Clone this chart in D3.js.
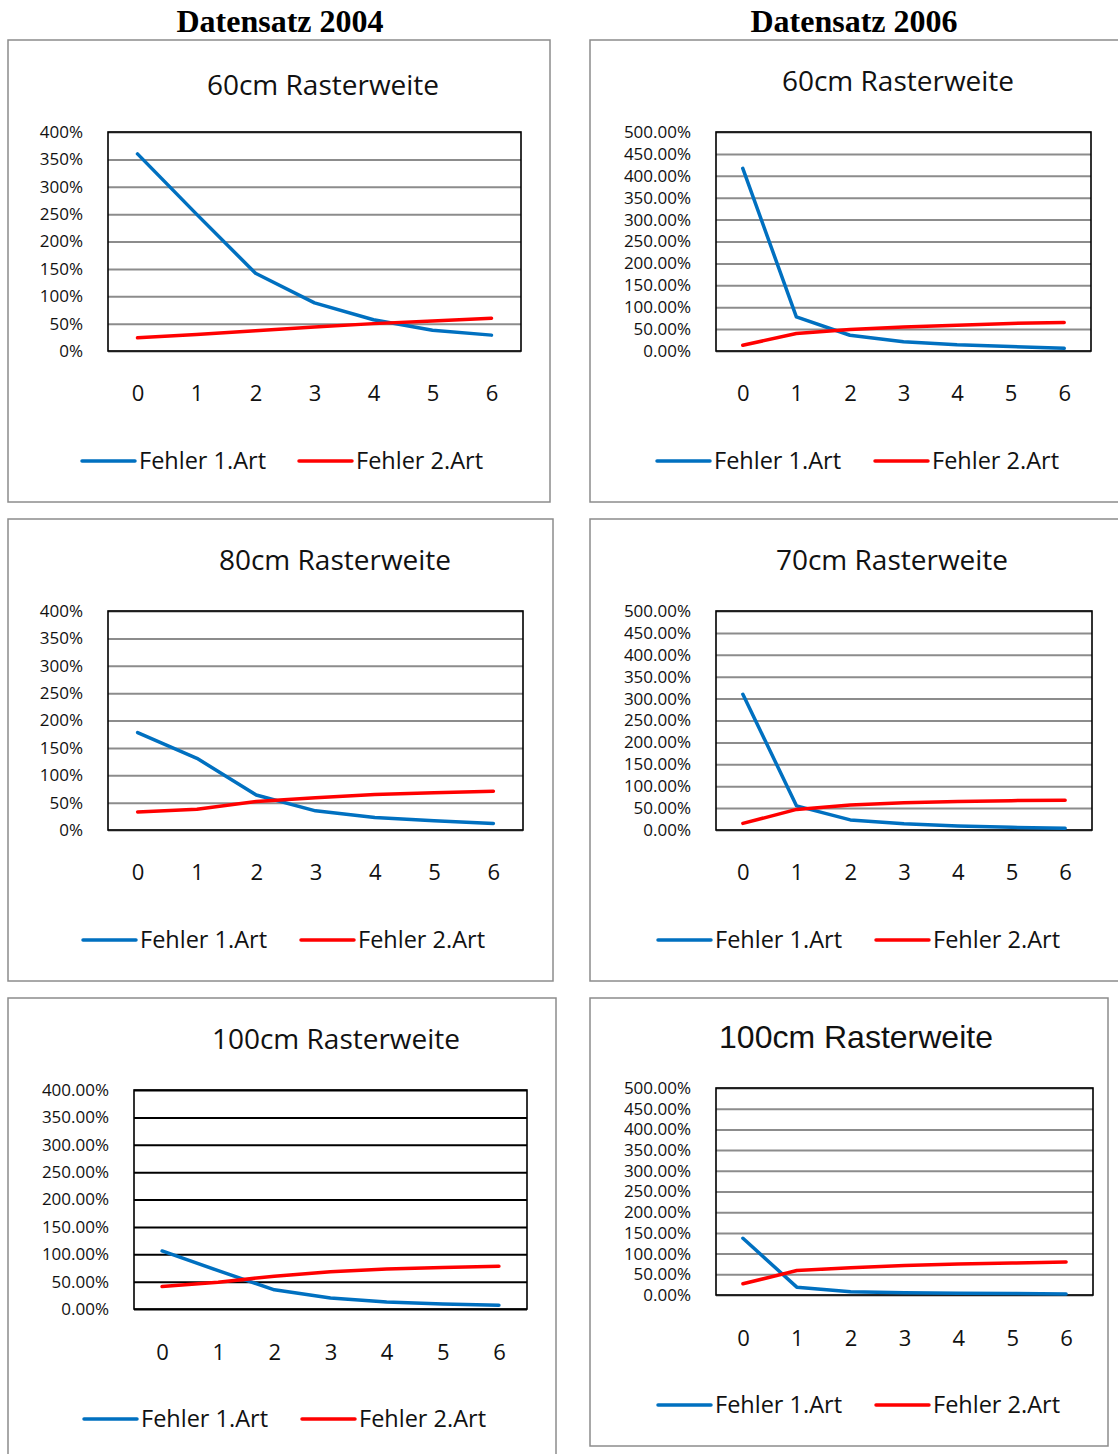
<!DOCTYPE html>
<html>
<head>
<meta charset="utf-8">
<script src="https://cdn.jsdelivr.net/npm/d3@7"></script>
<style>
  body { margin: 0; background: #fff; }
  svg { display: block; }
</style>
</head>
<body>
<svg id="drawing_region"></svg>
<script>
// x categories (Stufe)
const categories = [0, 1, 2, 3, 4, 5, 6];
const seriesNames = ["Fehler 1.Art", "Fehler 2.Art"];
const yearTitles = ["Datensatz 2004", "Datensatz 2006"];

// values in percent
const f1_2004_60  = [360, 250, 142, 88, 57, 38, 29];
const f2_2004_60  = [24, 30, 37, 44, 50, 55, 60];
const f1_2006_60  = [417, 78, 36, 21, 14, 10, 6];
const f2_2006_60  = [13, 40, 49, 55, 59, 63, 65];
const f1_2004_80  = [178, 131, 64, 35, 23, 17, 12];
const f2_2004_80  = [33, 38, 52, 59, 65, 68, 71];
const f1_2006_70  = [310, 55, 23, 14, 9, 6, 4];
const f2_2006_70  = [15, 47, 57, 62, 65, 67, 68];
const f1_2004_100 = [106, 70, 35, 20, 13, 9, 7];
const f2_2004_100 = [41, 49, 60, 68, 73, 76, 78];
const f1_2006_100 = [137, 19, 8, 5.5, 4, 3.5, 2.5];
const f2_2006_100 = [27, 59, 66, 71, 75, 77, 80];

const colors = ["#0070C0", "#FF0000"];

const svg = d3.select("#drawing_region")
    .attr("width", 1118)
    .attr("height", 1454);

svg.selectAll("text.year")
    .data(yearTitles)
    .enter()
    .append("text")
    .attr("class", "year")
    .attr("x", (d, i) => i == 0 ? 280 : 854)
    .attr("y", 32)
    .attr("text-anchor", "middle")
    .attr("font-family", "Liberation Serif")
    .attr("font-weight", "bold")
    .attr("font-size", "32px")
    .text(d => d);

const panels = [
    { title: "60cm Rasterweite", f1: f1_2004_60, f2: f2_2004_60, ymax: 400, fmt: ".0f",
      frame: [8, 40, 550, 502], plot: [108, 132, 521, 351], titleX: 323, titleY: 95,
      xlabY: 397, legY: 461, leg: [82, 299], grid: "#8c8c8c", font: "Open Sans", tsize: 28 },
    { title: "60cm Rasterweite", f1: f1_2006_60, f2: f2_2006_60, ymax: 500, fmt: ".2f",
      frame: [590, 40, 1125, 502], plot: [716, 132, 1091, 351], titleX: 898, titleY: 91,
      xlabY: 397, legY: 461, leg: [657, 875], grid: "#8c8c8c", font: "Open Sans", tsize: 28 },
    { title: "80cm Rasterweite", f1: f1_2004_80, f2: f2_2004_80, ymax: 400, fmt: ".0f",
      frame: [8, 519, 553, 981], plot: [108, 611, 523, 830], titleX: 335, titleY: 570,
      xlabY: 876, legY: 940, leg: [83, 301], grid: "#8c8c8c", font: "Open Sans", tsize: 28 },
    { title: "70cm Rasterweite", f1: f1_2006_70, f2: f2_2006_70, ymax: 500, fmt: ".2f",
      frame: [590, 519, 1125, 981], plot: [716, 611, 1092, 830], titleX: 892, titleY: 570,
      xlabY: 876, legY: 940, leg: [658, 876], grid: "#8c8c8c", font: "Open Sans", tsize: 28 },
    { title: "100cm Rasterweite", f1: f1_2004_100, f2: f2_2004_100, ymax: 400, fmt: ".2f",
      frame: [8, 998, 556, 1460], plot: [134, 1090, 527, 1309], titleX: 336, titleY: 1049,
      xlabY: 1356, legY: 1419, leg: [84, 302], grid: "#000", font: "Open Sans", tsize: 28 },
    { title: "100cm Rasterweite", f1: f1_2006_100, f2: f2_2006_100, ymax: 500, fmt: ".2f",
      frame: [590, 998, 1108, 1446], plot: [716, 1088, 1093, 1295], titleX: 856, titleY: 1048,
      xlabY: 1342, legY: 1405, leg: [658, 876], grid: "#8c8c8c", font: "Liberation Sans", tsize: 32 }
];

panels.forEach(p => drawPanel(p));

function drawPanel(p) {
    const [fx0, fy0, fx1, fy1] = p.frame;
    const [px0, py0, px1, py1] = p.plot;
    const g = svg.append("g");

    g.append("rect")
        .attr("x", fx0).attr("y", fy0)
        .attr("width", fx1 - fx0).attr("height", fy1 - fy0)
        .attr("fill", "#fff")
        .attr("stroke", "#8c8c8c")
        .attr("stroke-width", 1.5);

    g.append("text")
        .attr("x", p.titleX).attr("y", p.titleY)
        .attr("text-anchor", "middle")
        .attr("font-family", p.font)
        .attr("font-size", p.tsize + "px")
        .attr("fill", "#111")
        .text(p.title);

    const xscale = d3.scalePoint()
        .domain(categories)
        .range([px0, px1])
        .padding(0.5);

    const yscale = d3.scaleLinear()
        .domain([0, p.ymax])
        .range([py1, py0]);

    const yticks = d3.range(0, p.ymax + 1, 50);
    const fmt = d3.format(p.fmt);

    // gridlines
    g.append("g")
        .attr("transform", `translate(${px0},0)`)
        .call(d3.axisLeft(yscale).tickValues(yticks).tickSize(-(px1 - px0)).tickFormat(""))
        .call(a => a.select(".domain").remove())
        .call(a => a.selectAll("line").attr("stroke", p.grid).attr("stroke-width", 2));

    // y labels
    g.append("g")
        .attr("transform", `translate(${px0 - 22},0)`)
        .call(d3.axisLeft(yscale).tickValues(yticks).tickSize(0).tickFormat(d => fmt(d) + "%"))
        .call(a => a.select(".domain").remove())
        .call(a => a.selectAll("text")
            .attr("font-family", "Open Sans")
            .attr("font-size", "17px")
            .attr("fill", "#111")
            .attr("dx", 0));

    // x labels
    g.append("g")
        .attr("transform", `translate(0,${p.xlabY - 15})`)
        .call(d3.axisBottom(xscale).tickSize(0))
        .call(a => a.select(".domain").remove())
        .call(a => a.selectAll("text")
            .attr("font-family", "Open Sans")
            .attr("font-size", "22px")
            .attr("fill", "#111"));

    // plot border
    g.append("rect")
        .attr("x", px0).attr("y", py0)
        .attr("width", px1 - px0).attr("height", py1 - py0)
        .attr("fill", "none")
        .attr("stroke", "#000")
        .attr("stroke-width", 1.6);

    const line = d3.line()
        .x((d, i) => xscale(categories[i]))
        .y(d => yscale(d));

    [p.f1, p.f2].forEach((s, k) => {
        g.append("path")
            .datum(s)
            .attr("d", line)
            .attr("fill", "none")
            .attr("stroke", colors[k])
            .attr("stroke-width", 3.5)
            .attr("stroke-linecap", "round")
            .attr("stroke-linejoin", "round");
    });

    // legend
    seriesNames.forEach((name, k) => {
        const lx = p.leg[k];
        g.append("line")
            .attr("x1", lx).attr("x2", lx + 53)
            .attr("y1", p.legY).attr("y2", p.legY)
            .attr("stroke", colors[k])
            .attr("stroke-width", 3.5)
            .attr("stroke-linecap", "round");
        g.append("text")
            .attr("x", lx + 57).attr("y", p.legY + 8)
            .attr("font-family", "Open Sans")
            .attr("font-size", "23.5px")
            .attr("fill", "#111")
            .text(name);
    });
}
</script>
</body>
</html>
